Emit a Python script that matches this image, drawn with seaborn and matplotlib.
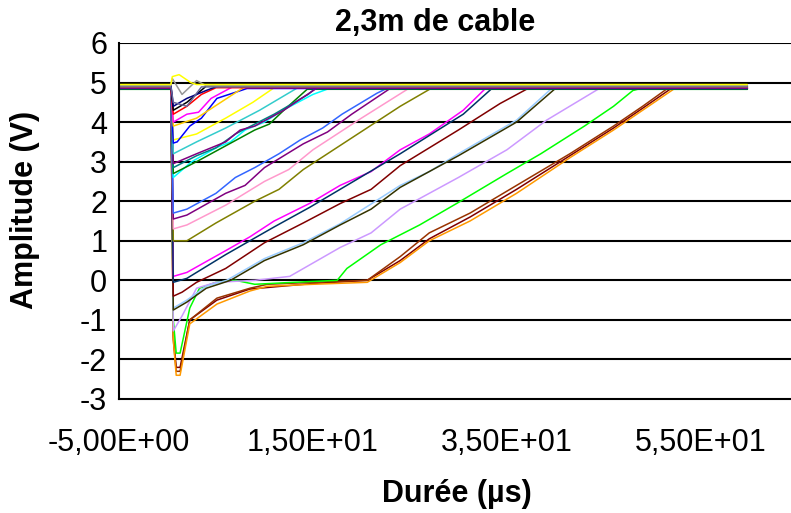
import matplotlib
matplotlib.use("Agg")
import matplotlib.pyplot as plt
import seaborn as sns
import numpy as np
import pandas as pd

# time base shared by every trace (µs)
T_START = -5.0
T_EDGE = 0.35
T_END = 59.8

# keypoints, after the falling edge: (t in µs, amplitude in V)
navy      = [(0.6, 4.4), (2, 4.6), (4, 4.8), (5.5, 4.88)]
magenta1  = [(0.6, 4.0), (2, 4.2), (3.2, 4.25), (4.5, 4.6), (7, 4.88)]
yellow1   = [(0.5, 5.15), (1.2, 5.2), (2.4, 5.0), (3, 4.88)]
cyan      = [(0.6, 2.6), (2.5, 3.0), (5.1, 3.36), (6.5, 3.5), (8, 3.8), (10, 4.0), (11.9, 4.3), (15, 4.7), (17, 4.88)]
purple1   = [(0.6, 2.95), (3, 3.2), (6, 3.5), (7.5, 3.8), (9, 3.9), (12, 4.3), (15.4, 4.88)]
red       = [(0.6, 4.2), (2, 4.4), (3.5, 4.7), (5, 4.88)]
teal      = [(0.6, 2.85), (3, 3.15), (5, 3.35), (7, 3.7), (11, 4.2), (14.5, 4.7), (15.5, 4.88)]
blue1     = [(0.6, 3.47), (1, 3.5), (2.3, 3.9), (3.5, 4.1), (5.1, 4.6), (8.2, 4.88)]
yellow2   = [(0.6, 3.55), (3, 3.7), (6, 4.1), (8.8, 4.5), (11.3, 4.88)]
aqua      = [(0.6, 3.2), (3, 3.5), (6, 3.85), (9.5, 4.3), (13.5, 4.88)]
green1    = [(0.6, 2.7), (3, 3.0), (6, 3.4), (9, 3.8), (10.5, 3.95), (12, 4.3), (14.4, 4.88)]
gold      = [(0.6, 3.9), (3, 4.1), (5.5, 4.5), (8, 4.88)]
black     = [(0.6, 4.3), (2, 4.5), (4, 4.88)]
gray      = [(0.5, 5.1), (1.5, 4.7), (3, 5.05), (4, 4.88)]
bluegray  = [(0.6, 4.5), (2, 4.4), (3.5, 4.88)]
royalblue = [(0.6, 1.7), (2, 1.8), (5, 2.2), (7, 2.6), (9, 2.85), (11.5, 3.2), (13.7, 3.55), (16, 3.85), (18, 4.2), (21.6, 4.73), (22.6, 4.88)]
purple2   = [(0.6, 1.55), (2, 1.65), (6, 2.2), (8, 2.4), (10, 2.85), (14, 3.45), (16.5, 3.75), (19, 4.2), (23.2, 4.88)]
rose      = [(0.6, 1.3), (2, 1.4), (6, 1.9), (10, 2.5), (12.5, 2.8), (15, 3.3), (20, 4.1), (25, 4.88)]
olive     = [(0.6, 1.0), (2, 1.0), (5, 1.45), (9, 2.0), (11.5, 2.3), (14, 2.8), (19, 3.6), (24, 4.4), (27.1, 4.88)]
magenta2  = [(0.6, 0.1), (2, 0.2), (6, 0.75), (8.5, 1.1), (11, 1.5), (14.7, 1.95), (17.8, 2.4), (21, 2.75), (24, 3.3), (27, 3.7), (30.5, 4.3), (33, 4.88)]
darkteal  = [(0.6, -0.05), (2, 0.05), (6, 0.65), (11, 1.35), (14.7, 1.85), (17.8, 2.3), (24, 3.2), (30.5, 4.2), (33.5, 4.88)]
darkred1  = [(0.6, -0.4), (1.5, -0.3), (3, -0.05), (6, 0.3), (10, 0.95), (14, 1.45), (17.8, 1.94), (21, 2.3), (24, 2.9), (30, 3.8), (34.3, 4.47), (37.4, 4.88)]
paleblue  = [(0.6, -0.7), (2, -0.5), (4, -0.15), (6.1, 0.0), (10, 0.55), (14, 0.95), (17.8, 1.43), (24, 2.4), (27, 2.75), (30, 3.2), (36, 4.05), (39.7, 4.88)]
darkolive = [(0.6, -0.75), (2, -0.55), (4, -0.2), (6.5, 0.0), (10, 0.5), (14, 0.9), (17.8, 1.4), (21, 1.8), (24, 2.35), (30, 3.15), (36, 4.0), (40, 4.88)]
lavender  = [(0.6, -1.28), (1.5, -0.9), (3, -0.2), (5, -0.05), (9, 0.0), (12.6, 0.1), (17.8, 0.83), (21, 1.2), (24, 1.8), (30, 2.6), (35, 3.3), (39.1, 4.05), (44.6, 4.88)]
green2    = [(0.6, -1.0), (0.9, -1.84), (1.3, -1.84), (2.3, -0.7), (3.3, -0.2), (5, -0.05), (7, 0.0), (9, -0.1), (13, -0.05),
             (17.5, 0.0), (18.5, 0.3), (22, 0.9), (26, 1.4), (29.8, 1.94), (35, 2.7), (38.5, 3.2), (43, 3.9), (46, 4.4), (48, 4.8), (48.5, 4.88)]
darkred2  = [(0.6, -1.4), (0.9, -2.2), (1.3, -2.2), (2.3, -1.0), (5.1, -0.5), (8.5, -0.22), (15, -0.08), (20.6, 0.0),
             (24, 0.5), (27, 1.05), (31.2, 1.6), (36, 2.3), (41.5, 3.15), (46, 3.85), (49, 4.35), (52, 4.88)]
brown     = [(0.6, -1.5), (0.9, -2.3), (1.3, -2.3), (2.3, -1.0), (5.1, -0.45), (8.5, -0.2), (10.3, -0.1), (15, -0.05), (20.6, 0.0),
             (24, 0.6), (27, 1.2), (31.2, 1.7), (36, 2.4), (41.5, 3.2), (46, 3.9), (49, 4.4), (51.5, 4.88)]
orange    = [(0.6, -1.5), (0.9, -2.4), (1.3, -2.4), (2.3, -1.1), (5.1, -0.6), (8.5, -0.27), (10.3, -0.15), (15, -0.1), (20.6, -0.05),
             (24, 0.45), (27, 1.0), (31.2, 1.5), (36, 2.2), (41.5, 3.1), (46, 3.8), (49, 4.3), (52.3, 4.88)]

# idle level of each trace before and after the pulse (V), same order as below
idle = [4.86, 4.84, 4.85, 4.83, 4.86, 4.87, 4.85, 4.88, 4.9, 4.86, 4.84, 4.87, 4.89, 4.85, 4.88,
        4.83, 4.9, 4.86, 4.88, 4.92, 4.85, 4.9, 4.93, 4.87, 4.91, 4.94, 4.89, 4.92, 4.95]

# Excel-ish series colours, drawn in this order (later on top)
traces = {
    'darkred2': (darkred2, '#800000'), 'brown': (brown, '#993300'), 'orange': (orange, '#FF9900'),
    'green2': (green2, '#00FF00'), 'lavender': (lavender, '#CC99FF'), 'paleblue': (paleblue, '#99CCFF'),
    'darkolive': (darkolive, '#333300'), 'darkred1': (darkred1, '#800000'), 'magenta2': (magenta2, '#FF00FF'),
    'darkteal': (darkteal, '#003366'), 'olive': (olive, '#808000'), 'rose': (rose, '#FF99CC'),
    'purple2': (purple2, '#800080'), 'royalblue': (royalblue, '#3366FF'), 'cyan': (cyan, '#00FFFF'),
    'green1': (green1, '#008000'), 'teal': (teal, '#008080'), 'purple1': (purple1, '#800080'),
    'aqua': (aqua, '#33CCCC'), 'yellow2': (yellow2, '#FFFF00'), 'blue1': (blue1, '#0000FF'),
    'gold': (gold, '#FFCC00'), 'magenta1': (magenta1, '#FF00FF'), 'red': (red, '#FF0000'),
    'black': (black, '#000000'), 'navy': (navy, '#000080'), 'bluegray': (bluegray, '#666699'),
    'gray': (gray, '#969696'), 'yellow1': (yellow1, '#FFFF00'),
}

rows = []
for (name, (pts, col)), base in zip(traces.items(), idle):
    full = [(T_START, base), (T_EDGE, base)] + pts[:-1] + [(pts[-1][0], base), (T_END, base)]
    for t, v in full:
        rows.append((name, t, v))
df = pd.DataFrame(rows, columns=['trace', 't', 'v'])
palette = {name: col for name, (pts, col) in traces.items()}

sns.set_style('white')
plt.rcParams['font.family'] = ['Liberation Sans', 'DejaVu Sans']
plt.rcParams['text.color'] = 'black'
plt.rcParams['axes.labelcolor'] = 'black'

fig = plt.figure(figsize=(7.91, 5.13), dpi=100)
ax = fig.add_axes([119/791, 1-399/513, 1-119/791, (399-43)/513])

sns.lineplot(data=df, x='t', y='v', hue='trace', palette=palette, hue_order=list(traces.keys()),
             sort=False, estimator=None, legend=False, linewidth=1.1, ax=ax)

ax.set_xlim(-5, 64.3)
ax.set_ylim(-3, 6)
ax.set_xticks([-5, 15, 35, 55])
ax.set_xticklabels(['-5,00E+00', '1,50E+01', '3,50E+01', '5,50E+01'])
ax.set_yticks(range(-3, 7))
ax.set_yticklabels([str(i) for i in range(-3, 7)])

for y in range(-2, 7):
    ax.axhline(y, color='black', lw=1.5, zorder=0)

for s in ['top', 'right']:
    ax.spines[s].set_visible(False)
for s in ['left', 'bottom']:
    ax.spines[s].set_color('black')
    ax.spines[s].set_linewidth(1.5)

ax.tick_params(axis='y', direction='inout', length=15, width=1.5, labelsize=22, pad=1, colors='black')
ax.tick_params(axis='x', direction='out', length=7, width=1.5, labelsize=22, pad=14, colors='black')

ax.set_xlabel('Durée (µs)', fontsize=22, fontweight='bold', color='black')
ax.xaxis.set_label_coords(0.503, -0.226)
ax.set_ylabel('Amplitude (V)', fontsize=22, fontweight='bold', color='black')
ax.yaxis.set_label_coords(-0.118, 0.53)
ax.set_title('2,3m de cable', fontsize=22, fontweight='bold', x=0.47, pad=9, color='black')

fig.savefig('out.png', dpi=100)
